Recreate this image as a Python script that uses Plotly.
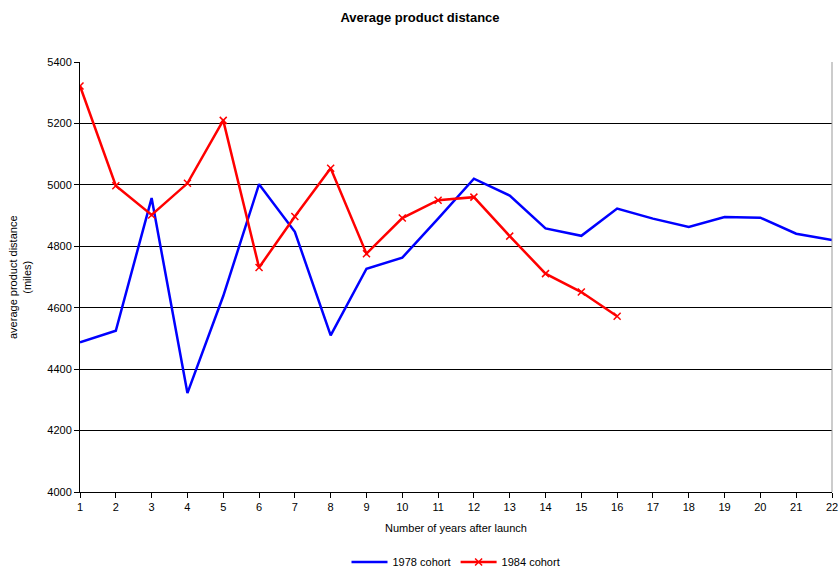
import plotly.graph_objects as go

years = list(range(1, 23))

cohort_1978 = [4487, 4525, 4957, 4322, 4638, 5002, 4847, 4510, 4727, 4763,
               4890, 5020, 4965, 4858, 4834, 4923, 4890, 4863, 4895, 4893,
               4841, 4820]
cohort_1984 = [5322, 4997, 4902, 5005, 5210, 4731, 4897, 5054, 4776, 4892,
               4950, 4960, 4833, 4711, 4651, 4572]

y_ticks = [4000, 4200, 4400, 4600, 4800, 5000, 5200, 5400]

font = "Liberation Sans, Arial, sans-serif"

fig = go.Figure()

fig.add_trace(go.Scatter(
    x=years, y=cohort_1978, name="1978 cohort", mode="lines",
    line=dict(color="#0000ff", width=2.5),
))
fig.add_trace(go.Scatter(
    x=years[:len(cohort_1984)], y=cohort_1984, name="1984 cohort",
    mode="lines+markers",
    line=dict(color="#ff0000", width=2.5),
    marker=dict(symbol="x-thin", size=7, line=dict(color="#ff0000", width=1.5)),
))

fig.update_layout(
    width=840, height=571,
    margin=dict(l=80, r=8, t=62, b=79, autoexpand=False),
    paper_bgcolor="white", plot_bgcolor="white",
    font=dict(family=font, size=11, color="black"),
    title=dict(text="<b>Average product distance</b>", x=0.5, xanchor="center",
               y=1 - 17 / 571, yanchor="middle", font=dict(size=13)),
    showlegend=True,
    legend=dict(orientation="h", x=0.5, xanchor="center", y=-0.163, yanchor="middle",
                font=dict(size=11), itemwidth=36, tracegroupgap=0),
)

fig.update_xaxes(
    range=[1, 22], tickvals=years, ticks="outside", ticklen=5, tickcolor="black",
    showline=True, linecolor="black", linewidth=1, mirror=False,
    showgrid=False, zeroline=False,
    title=dict(text="Number of years after launch", standoff=12, font=dict(size=11)),
)
fig.update_yaxes(
    range=[4000, 5400], tickvals=y_ticks, ticks="outside", ticklen=5, tickcolor="black",
    showline=True, linecolor="black", linewidth=1,
    showgrid=True, gridcolor="black", gridwidth=1, zeroline=False,
)

# right border of the plot area
fig.add_shape(type="line", xref="paper", yref="paper", x0=1, x1=1, y0=0, y1=1,
              line=dict(color="#999999", width=1))

fig.add_annotation(
    text="average product distance<br>(miles)", xref="paper", yref="paper",
    x=-(80 - 20) / 752, y=0.5, xanchor="center", yanchor="middle",
    textangle=-90, showarrow=False, font=dict(size=11),
)

# the page body has a default 8px margin; drop it so the figure sits at 0,0
fig.write_html("out.html", config={"displayModeBar": False},
               post_script="document.body.style.margin='0';")
